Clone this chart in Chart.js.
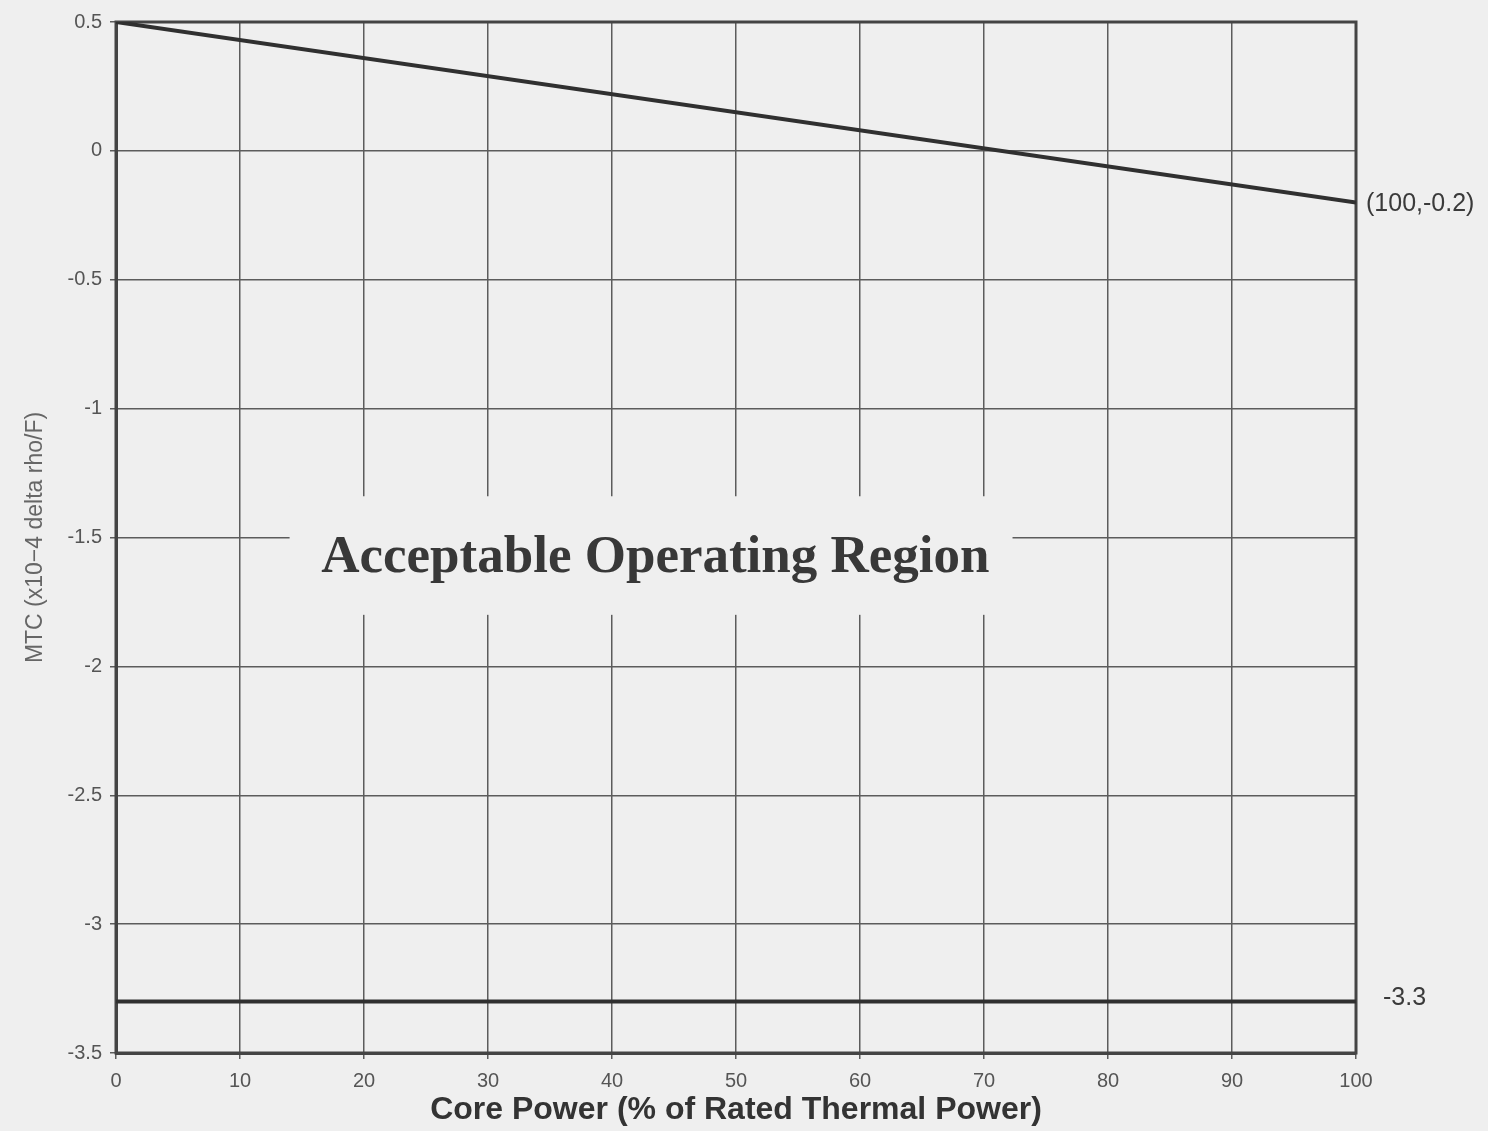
<!DOCTYPE html>
<html>
<head>
<meta charset="utf-8">
<script src="https://cdn.jsdelivr.net/npm/chart.js@4.4.1/dist/chart.umd.min.js"></script>
<style>
  html, body { margin: 0; padding: 0; background: #efefef; }
  #wrap { width: 1488px; height: 1131px; }
</style>
</head>
<body>
<div id="wrap"><canvas id="mtc"></canvas></div>
<script>
// limite superior del MTC (recta) y limite inferior (constante)
const potenciaLimSup = [0, 100];
const mtcLimSup = [0.5, -0.2];
const potenciaLimInf = [0, 100];
const mtcLimInf = [-3.3, -3.3];

const etiquetaLimSup = "(100,-0.2)";
const etiquetaLimInf = "-3.3";
const textoRegion = "Acceptable Operating Region";

const colorLinea = "#303030";
const colorFondo = "#efefef";

// rotulos sobre el grafico: recuadro de la region y valores de los extremos
const rotulos = {
    id: "rotulos",
    beforeDraw(chart) {
        const ctx = chart.ctx;
        ctx.save();
        ctx.fillStyle = colorFondo;
        ctx.fillRect(0, 0, chart.width, chart.height);
        ctx.restore();
    },
    beforeDatasetsDraw(chart) {
        const { ctx, scales: { x, y }, chartArea: a } = chart;
        ctx.save();
        // hueco en la reticula detras del texto
        ctx.fillStyle = colorFondo;
        const x0 = x.getPixelForValue(14), x1 = x.getPixelForValue(72.3);
        const y0 = y.getPixelForValue(-1.34), y1 = y.getPixelForValue(-1.8);
        ctx.fillRect(x0, y0, x1 - x0, y1 - y0);
        ctx.fillStyle = "#383838";
        ctx.font = "bold 53px 'Liberation Serif', 'DejaVu Serif', serif";
        ctx.textAlign = "center";
        ctx.textBaseline = "middle";
        ctx.fillText(textoRegion, x.getPixelForValue(43.5), y.getPixelForValue(-1.58));
        // marco del area
        ctx.strokeStyle = "#444";
        ctx.lineWidth = 3;
        ctx.strokeRect(a.left, a.top, a.right - a.left, a.bottom - a.top);
        ctx.restore();
    },
    afterDraw(chart) {
        const { ctx, scales: { x, y } } = chart;
        ctx.save();
        ctx.fillStyle = "#3a3a3a";
        ctx.font = "25px 'Liberation Sans', Arial, sans-serif";
        ctx.textBaseline = "middle";
        ctx.textAlign = "left";
        ctx.fillText(etiquetaLimSup, x.getPixelForValue(potenciaLimSup[1]) + 10, y.getPixelForValue(mtcLimSup[1]) + 2);
        ctx.fillText(etiquetaLimInf, x.getPixelForValue(potenciaLimInf[1]) + 27, y.getPixelForValue(mtcLimInf[1]) - 3);
        ctx.restore();
    }
};

new Chart(document.getElementById("mtc"), {
    type: "scatter",
    data: {
        datasets: [
            {
                data: potenciaLimSup.map((p, i) => ({ x: p, y: mtcLimSup[i] })),
                showLine: true,
                borderColor: colorLinea,
                borderWidth: 4,
                pointRadius: 0
            },
            {
                data: potenciaLimInf.map((p, i) => ({ x: p, y: mtcLimInf[i] })),
                showLine: true,
                borderColor: colorLinea,
                borderWidth: 4,
                pointRadius: 0
            }
        ]
    },
    options: {
        responsive: true,
        maintainAspectRatio: false,
        animation: false,
        layout: { padding: { top: 22, right: 132, left: 0, bottom: 0 } },
        plugins: { legend: { display: false }, tooltip: { enabled: false } },
        scales: {
            x: {
                type: "linear",
                min: 0, max: 100,
                afterFit: s => { s.height = 78; },
                ticks: {
                    stepSize: 10,
                    color: "#555",
                    padding: 10,
                    font: { size: 20, family: "'Liberation Sans', Arial, sans-serif" }
                },
                grid: { color: "#5c5c5c", lineWidth: 1.5, tickLength: 6 },
                border: { color: "#444", width: 3 },
                title: {
                    display: true,
                    text: "Core Power (% of Rated Thermal Power)",
                    color: "#333",
                    padding: { top: 0, bottom: 2 },
                    font: { size: 32, weight: "bold", family: "'Liberation Sans', Arial, sans-serif" }
                }
            },
            y: {
                type: "linear",
                min: -3.5, max: 0.5,
                afterFit: s => { s.width = 116; },
                ticks: {
                    stepSize: 0.5,
                    color: "#555",
                    padding: 8,
                    font: { size: 20, family: "'Liberation Sans', Arial, sans-serif" },
                    callback: v => String(v)
                },
                grid: { color: "#5c5c5c", lineWidth: 1.5, tickLength: 6 },
                border: { color: "#444", width: 3 },
                title: {
                    display: true,
                    text: "MTC (x10\u22124 delta rho/F)",
                    color: "#666",
                    padding: { top: 22, bottom: 0 },
                    font: { size: 23, family: "'Liberation Sans', Arial, sans-serif" }
                }
            }
        }
    },
    plugins: [rotulos]
});
</script>
</body>
</html>
